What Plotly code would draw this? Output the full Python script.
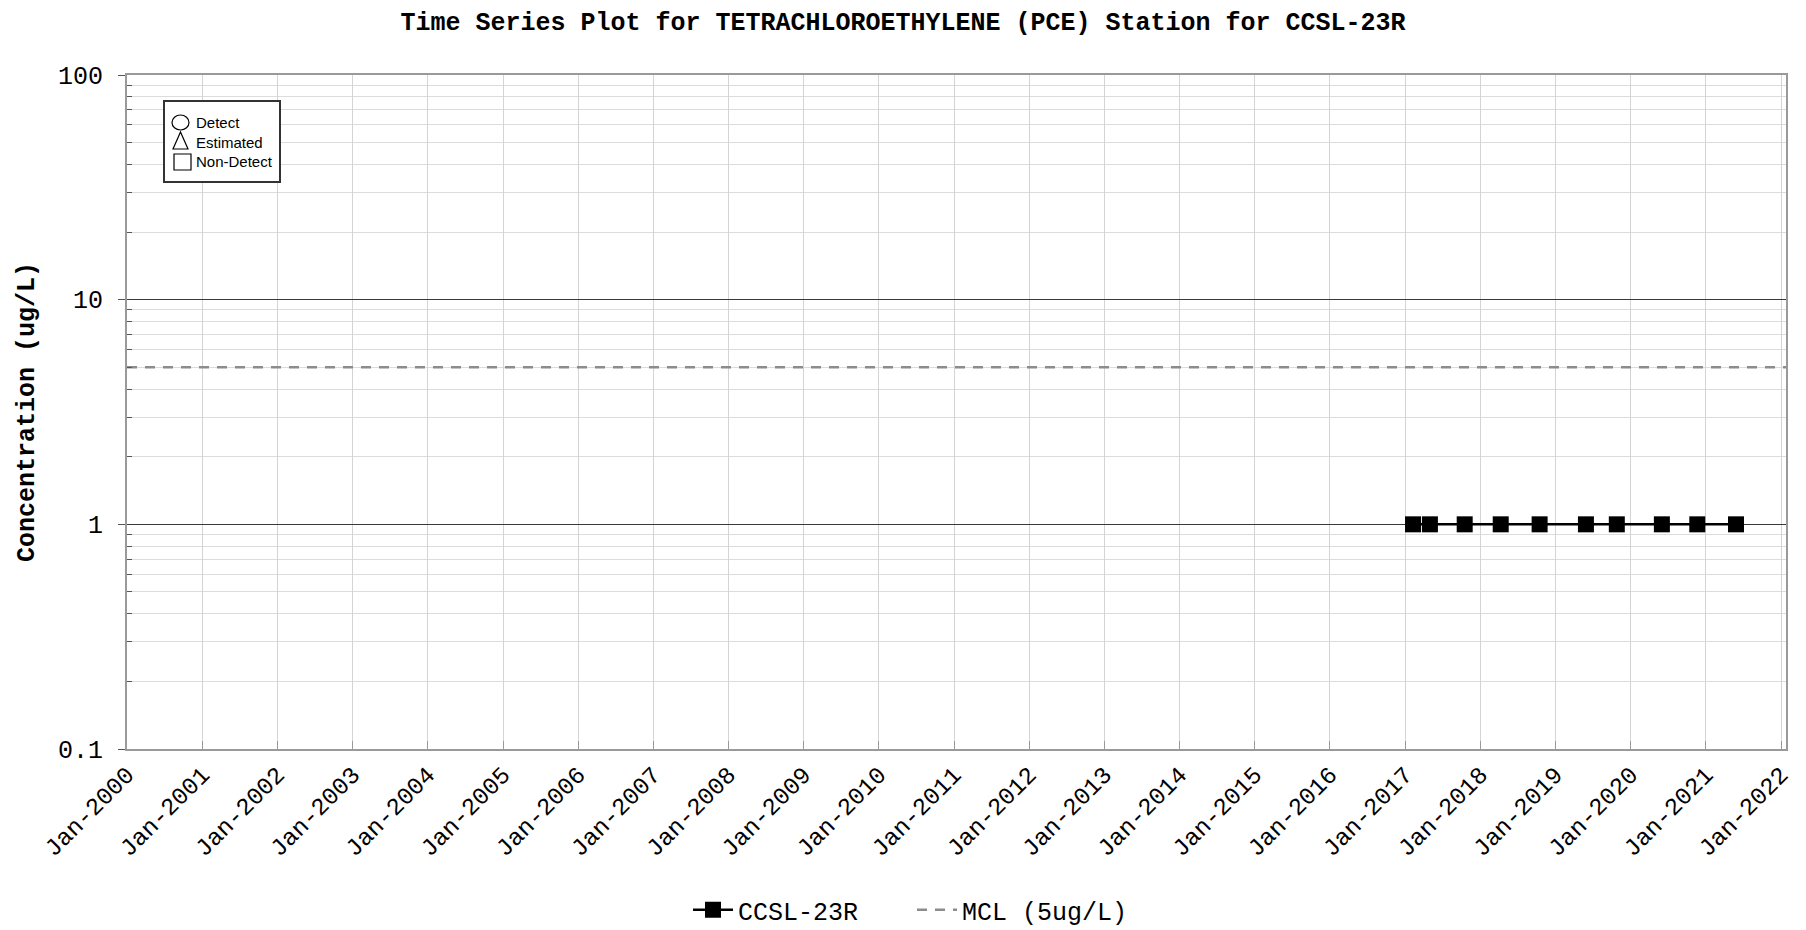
import plotly.graph_objects as go

# ---------------- data ----------------
sample_dates = ["2017-02-08", "2017-05-01", "2017-10-17", "2018-04-10", "2018-10-16",
                "2019-05-29", "2019-10-26", "2020-06-01", "2020-11-20", "2021-05-27"]
sample_values = [1, 1, 1, 1, 1, 1, 1, 1, 1, 1]
station_name = "CCSL-23R"
mcl_value = 5
mcl_name = "MCL (5ug/L)"
x_range = ["2000-01-01", "2022-01-25"]
y_decades = [-1, 0, 1]
y_minor_mult = [2, 3, 4, 5, 6, 7, 8, 9]
inset_labels = ["Detect", "Estimated", "Non-Detect"]

# ---------------- layout geometry ----------------
W, H = 1806, 930
L, R, T, B = 127, 1786, 75, 749


def px(x):
    return (x - L) / (R - L)


def py(y):
    return (B - y) / (B - T)


MONO = "Liberation Mono, Courier New, monospace"

fig = go.Figure()

fig.add_trace(go.Scatter(
    x=sample_dates, y=sample_values, name=station_name, mode="lines+markers",
    line=dict(color="black", width=2.5),
    marker=dict(symbol="square", size=16, color="black"),
))
fig.add_trace(go.Scatter(
    x=x_range, y=[mcl_value, mcl_value], name=mcl_name, mode="lines",
    line=dict(color="#8c8c8c", width=2.5, dash="10px,8px"),
))

minor_vals = [m * 10 ** e for e in y_decades for m in y_minor_mult]

fig.update_layout(
    width=W, height=H,
    margin=dict(l=L, r=W - R, t=T, b=H - B),
    paper_bgcolor="white", plot_bgcolor="white",
    title=dict(text="Time Series Plot for TETRACHLOROETHYLENE (PCE) Station for CCSL-23R",
               x=0.5, xref="container", xanchor="center",
               y=1 - 21 / H, yref="container", yanchor="middle",
               font=dict(family=MONO, size=25, color="black", weight="bold")),
    showlegend=True,
    legend=dict(orientation="h", xref="container", yref="container",
                x=688 / W, xanchor="left", y=(H - 910) / H, yanchor="middle",
                font=dict(family=MONO, size=25, color="black"),
                itemwidth=40, entrywidth=169, entrywidthmode="pixels",
                bgcolor="rgba(0,0,0,0)"),
)

fig.update_xaxes(
    type="date", range=x_range, dtick="M12", tick0="2000-01-01", tickformat="%b-%Y",
    tickangle=-45, tickfont=dict(family=MONO, size=24, color="black"),
    showgrid=True, gridcolor="#d4d4d4", gridwidth=1,
    ticks="inside", ticklen=8, tickcolor="#9a9a9a", tickwidth=1,
    showline=True, linecolor="#9a9a9a", linewidth=2, mirror=True,
    zeroline=False,
)
fig.update_yaxes(
    type="log", range=[-1, 2], dtick=1,
    tickfont=dict(family=MONO, size=25, color="black"),
    showgrid=True, gridcolor="#3a3a3a", gridwidth=1,
    ticks="outside", ticklen=7, tickcolor="#555555", tickwidth=1,
    ticklabelstandoff=10,
    minor=dict(tickvals=minor_vals, showgrid=True, gridcolor="#dcdcdc", gridwidth=1,
               ticks="inside", ticklen=5, tickcolor="#555555"),
    showline=True, linecolor="#9a9a9a", linewidth=2, mirror=True,
    zeroline=False,
    title=dict(text="Concentration (ug/L)", standoff=16,
               font=dict(family=MONO, size=25, color="black", weight="bold")),
)

# ---------------- inset symbol legend ----------------
fig.add_shape(type="rect", xref="paper", yref="paper",
              x0=px(164), x1=px(280), y0=py(101), y1=py(182),
              line=dict(color="#333333", width=2), fillcolor="white", layer="above")
row_y = [122.5, 142, 162]
fig.add_shape(type="circle", xref="paper", yref="paper",
              x0=px(172), x1=px(189), y0=py(115), y1=py(130),
              line=dict(color="black", width=1.2), layer="above")
fig.add_shape(type="path", xref="paper", yref="paper",
              path=f"M {px(173)},{py(149)} L {px(188)},{py(149)} L {px(180.5)},{py(132)} Z",
              line=dict(color="black", width=1.2), layer="above")
fig.add_shape(type="rect", xref="paper", yref="paper",
              x0=px(174), x1=px(191), y0=py(154), y1=py(170),
              line=dict(color="black", width=1.2), layer="above")
for lbl, yy in zip(inset_labels, row_y):
    fig.add_annotation(text=lbl, xref="paper", yref="paper", x=px(194), y=py(yy),
                       xanchor="left", yanchor="middle", showarrow=False,
                       font=dict(family="Liberation Sans Narrow, Liberation Sans, Arial, sans-serif",
                                 size=15, color="black"))

fig.write_html("out.html", config={"displayModeBar": False},
               post_script="document.body.style.margin='0';document.body.style.overflow='hidden';")
